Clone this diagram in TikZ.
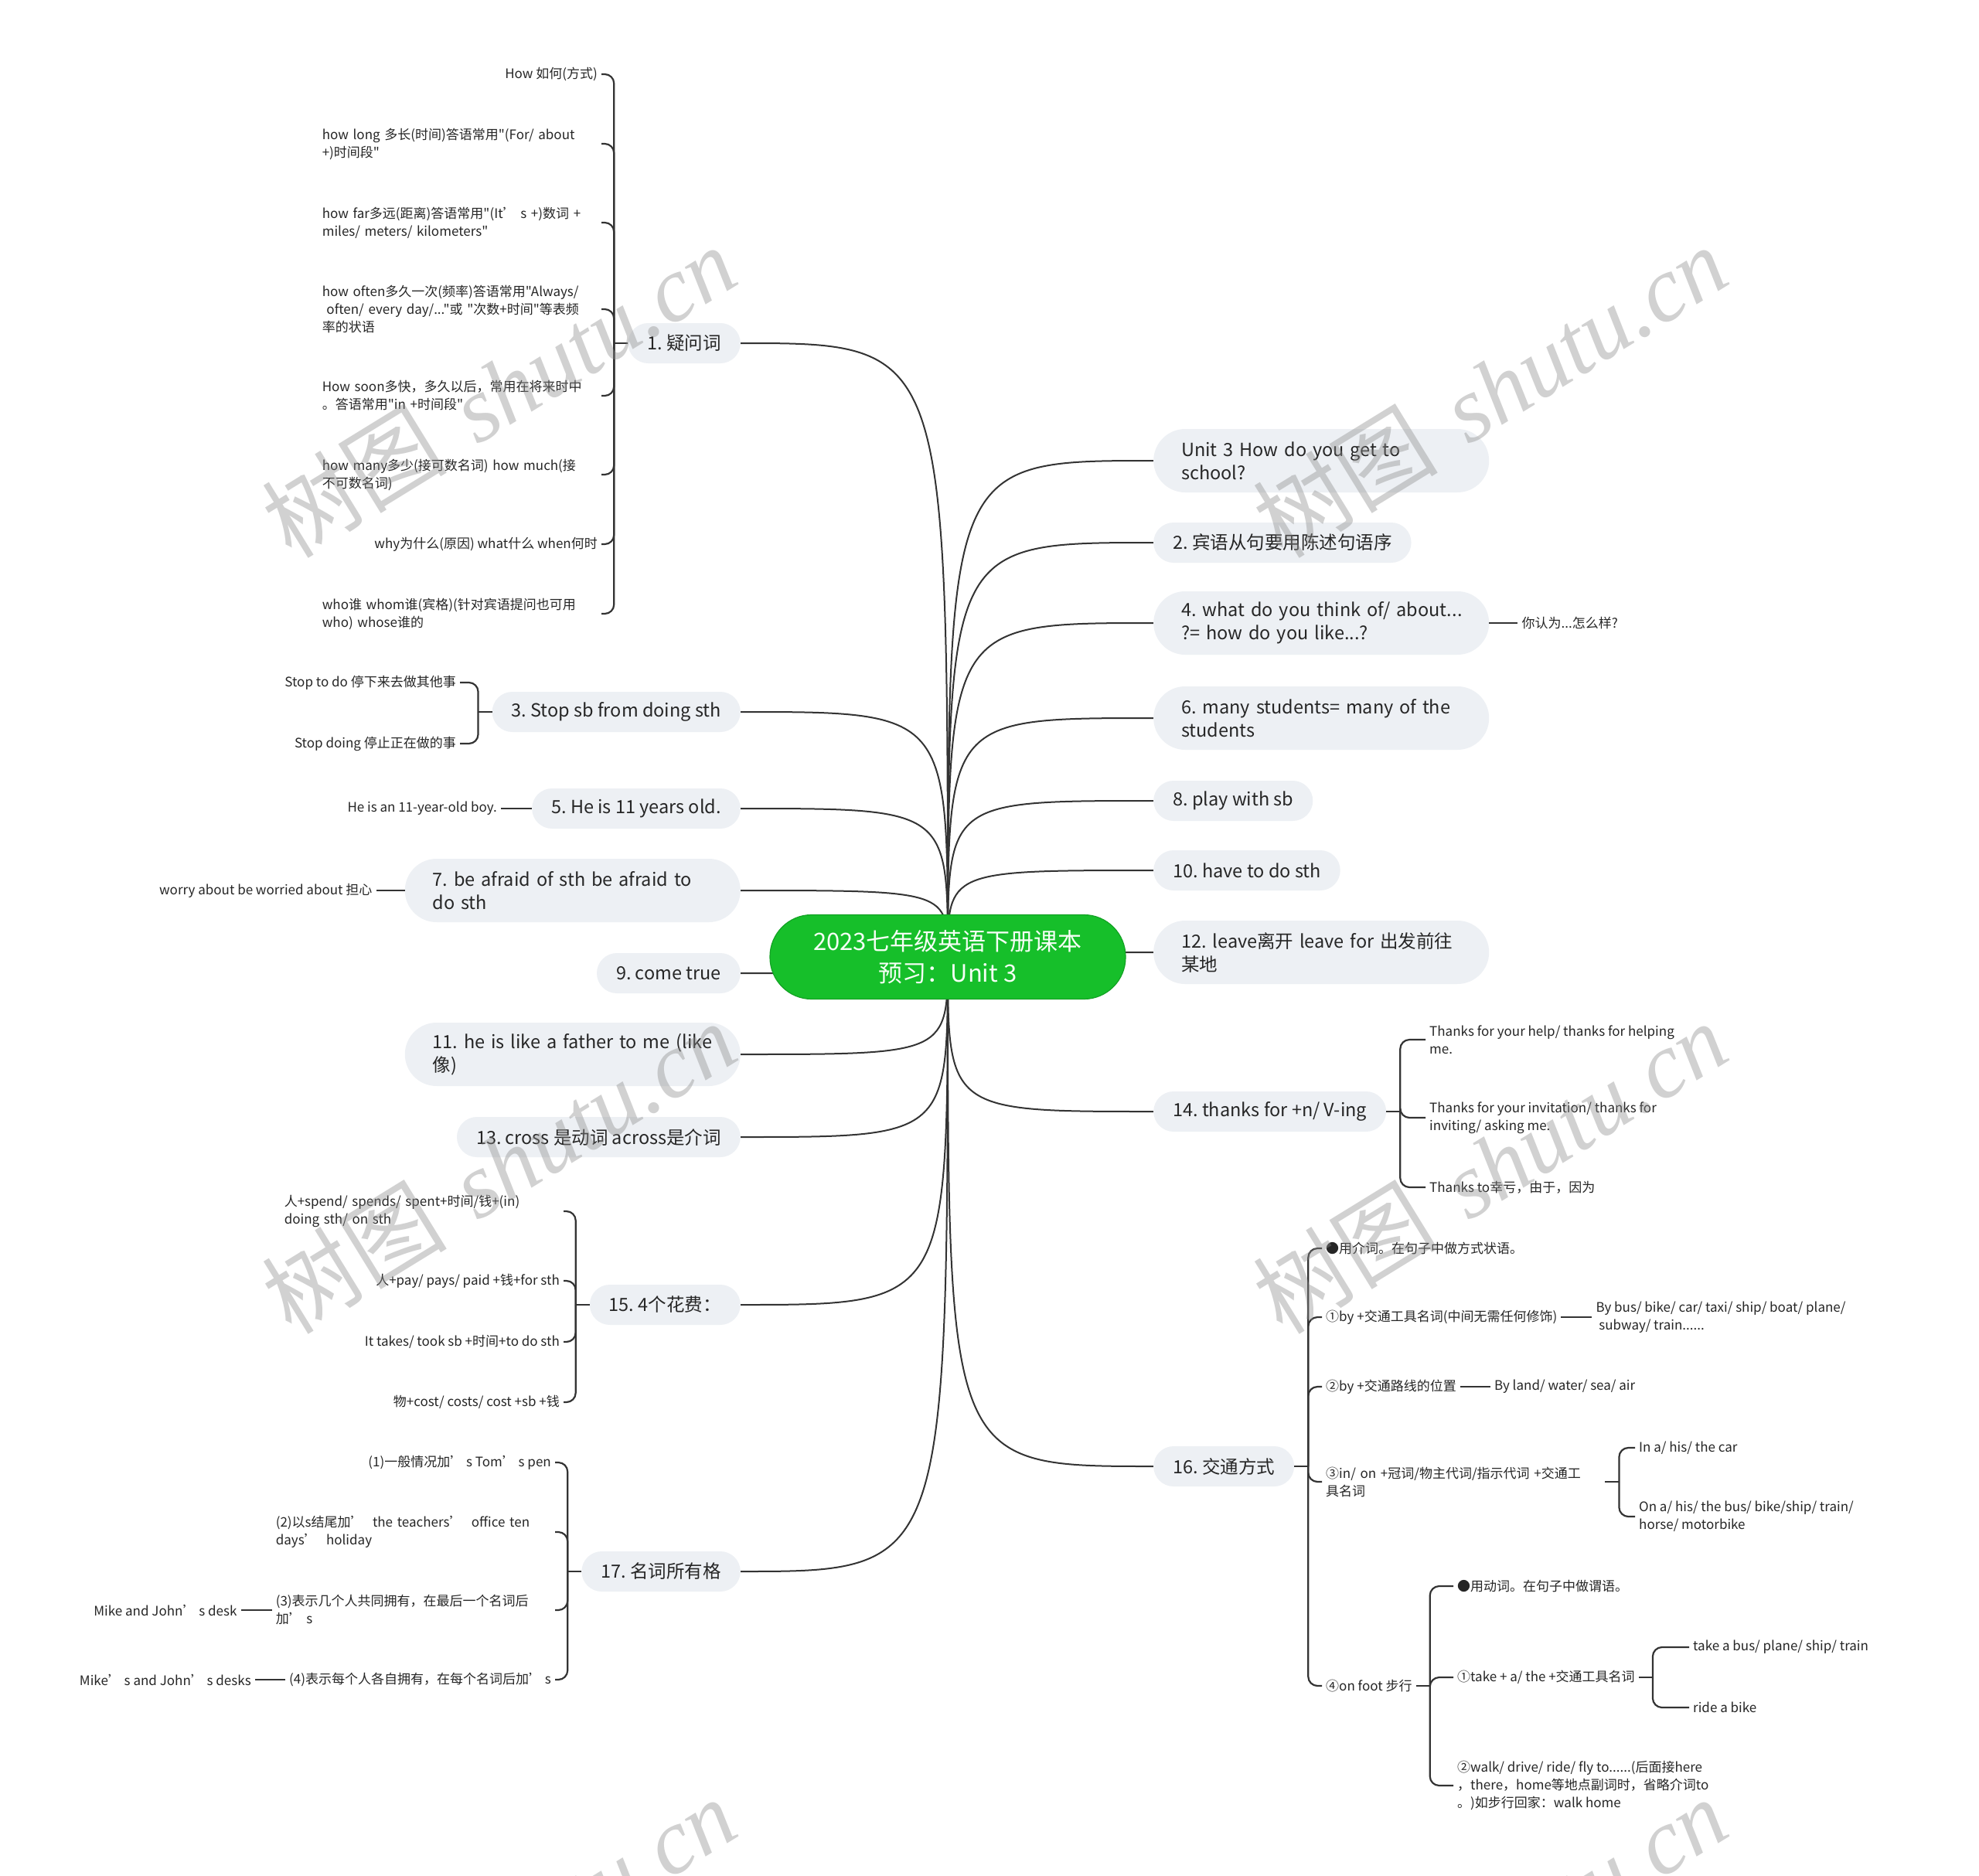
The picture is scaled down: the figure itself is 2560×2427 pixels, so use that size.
\documentclass[tikz,border=0pt]{standalone}
\usepackage{fontspec}
\setmainfont{Noto Sans CJK SC}[Ligatures=TeXOff]
\newfontfamily\wmfont{Liberation Serif}
\usetikzlibrary{positioning, backgrounds}
\definecolor{rootgreen}{HTML}{16BF2A}
\definecolor{boxgrey}{HTML}{EDF0F4}
\definecolor{linegrey}{HTML}{333333}
\frenchspacing

\begin{document}
\begin{tikzpicture}[
  x=1pt, y=-1pt,
  root/.style={rectangle, rounded corners=54, fill=rootgreen, draw=rootgreen!85!black, line width=1.2, minimum width=460, minimum height=109, align=center, text=green!4, font=\fontsize{31}{41}\selectfont},
  branch/.style={rectangle, rounded corners=26, fill=boxgrey, minimum height=52, inner xsep=25, inner ysep=0, text=black!85, font=\fontsize{23.5}{30}\selectfont},
  branchtwo/.style={branch, rounded corners=41, minimum height=82, inner xsep=36, text width=362, align=left},
  leaf/.style={inner xsep=5, inner ysep=2, text=black!85, font=\fontsize{17}{23}\selectfont},
  leafwide/.style={leaf, text width=356, align=left},
  leafml/.style={leaf, align=left},
  conn/.style={draw=linegrey, line width=2.2},
  hook/.style={conn, rounded corners=12},
  rootline/.style={draw=linegrey, line width=2},
  wmark/.style={text=black!45, opacity=0.4, font=\fontsize{120}{120}\selectfont, rotate=31.6},
]
\useasboundingbox (0,0) rectangle (2560,2427);

\node[root] (root) at (1226,1238) {2023七年级英语下册课本\\预习：Unit 3};

\node[branch, anchor=east] (b1) at (958,444) {1. 疑问词};
\node[branch, anchor=east] (b3) at (958,921) {3. Stop sb from doing sth};
\node[branch, anchor=east] (b5) at (958,1046) {5. He is 11 years old.};
\node[branchtwo, anchor=east] (b7) at (958,1152) {7. be afraid of sth be afraid to\\do sth};
\node[branch, anchor=east] (b9) at (958,1259) {9. come true};
\node[branchtwo, anchor=east] (b11) at (958,1364) {11. he is like a father to me (like\\像)};
\node[branch, anchor=east] (b13) at (958,1471) {13. cross 是动词 across是介词};
\node[branch, anchor=east] (b15) at (958,1688) {15. 4个花费：};
\node[branch, anchor=east] (b17) at (958,2033) {17. 名词所有格};

\node[branchtwo, anchor=west] (bu) at (1492,596) {Unit 3 How do you get to\\school?};
\node[branch, anchor=west] (b2) at (1492,702) {2. 宾语从句要用陈述句语序};
\node[branchtwo, anchor=west] (b4) at (1492,806) {\mbox{4. what do you think of/ about...}\\?= how do you like...?};
\node[branchtwo, anchor=west] (b6) at (1492,929) {6. many students= many of the\\students};
\node[branch, anchor=west] (b8) at (1492,1036) {8. play with sb};
\node[branch, anchor=west] (b10) at (1492,1126) {10. have to do sth};
\node[branchtwo, anchor=west] (b12) at (1492,1232) {12. leave离开 leave for 出发前往\\某地};
\node[branch, anchor=west] (b14) at (1492,1438) {14. thanks for +n/ V-ing};
\node[branch, anchor=west] (b16) at (1492,1897) {16. 交通方式};

\node[leaf, anchor=east] (l1a) at (778,96) {How 如何(方式)};
\node[leafwide, anchor=east] (l1b) at (778,186) {how long 多长(时间)答语常用"(For/ about\\+)时间段"};
\node[leafwide, anchor=east] (l1c) at (778,288) {how far多远(距离)答语常用"(It’ s +)数词 +\\miles/ meters/ kilometers"};
\node[leafwide, anchor=east] (l1d) at (778,400) {how often多久一次(频率)答语常用"Always/\\\ often/ every day/..."或 "次数+时间"等表频\\率的状语};
\node[leafwide, anchor=east] (l1e) at (778,512) {How soon多快，多久以后，常用在将来时中\\。答语常用"in +时间段"};
\node[leafwide, anchor=east] (l1f) at (778,614) {how many多少(接可数名词) how much(接\\不可数名词)};
\node[leaf, anchor=east] (l1g) at (778,704) {why为什么(原因) what什么 when何时};
\node[leafwide, anchor=east] (l1h) at (778,794) {who谁 whom谁(宾格)(针对宾语提问也可用\\who) whose谁的};

\node[leaf, anchor=east] (l3a) at (595,883) {Stop to do 停下来去做其他事};
\node[leaf, anchor=east] (l3b) at (595,962) {Stop doing 停止正在做的事};
\node[leaf, left=40 of b5] (l5) {He is an 11-year-old boy.};
\node[leaf, left=37 of b7] (l7) {worry about be worried about 担心};

\node[leafwide, anchor=east] (l15a) at (729,1567) {人+spend/ spends/ spent+时间/钱+(in)\\doing sth/ on sth};
\node[leaf, anchor=east] (l15b) at (729,1657) {人+pay/ pays/ paid +钱+for sth};
\node[leaf, anchor=east] (l15c) at (729,1736) {It takes/ took sb +时间+to do sth};
\node[leaf, anchor=east] (l15d) at (729,1814) {物+cost/ costs/ cost +sb +钱};

\node[leaf, anchor=east] (l17a) at (718,1892) {(1)一般情况加’ s Tom’ s pen};
\node[leafwide, anchor=east] (l17b) at (718,1982) {(2)以s结尾加’\ \ the teachers’\ \ office ten\\days’\ \ holiday};
\node[leafwide, anchor=east] (l17c) at (718,2083) {(3)表示几个人共同拥有，在最后一个名词后\\加’ s};
\node[leaf, anchor=east] (l17d) at (718,2173) {(4)表示每个人各自拥有，在每个名词后加’ s};
\node[leaf, left=40 of l17c] (m3) {Mike and John’ s desk};
\node[leaf, left=39 of l17d] (m4) {Mike’ s and John’ s desks};

\node[leaf, right=37 of b4] (l4) {你认为...怎么样?};

\node[leafml, anchor=west] (l14a) at (1844,1345) {Thanks for your help/ thanks for helping\\me.};
\node[leafml, anchor=west] (l14b) at (1844,1446) {Thanks for your invitation/ thanks for\\inviting/ asking me.};
\node[leaf, anchor=west] (l14c) at (1844,1536) {Thanks to幸亏，由于，因为};

\node[leaf, anchor=west] (l16a) at (1710,1615) {●用介词。在句子中做方式状语。};
\node[leaf, anchor=west] (l16b) at (1710,1704) {①by +交通工具名词(中间无需任何修饰)};
\node[leaf, anchor=west] (l16c) at (1710,1794) {②by +交通路线的位置};
\node[leafwide, anchor=west] (l16d) at (1710,1917) {③in/ on +冠词/物主代词/指示代词 +交通工\\具名词};
\node[leaf, anchor=west] (l16e) at (1710,2181) {④on foot 步行};
\node[leafml, right=40 of l16b] (m16b) {By bus/ bike/ car/ taxi/ ship/ boat/ plane/\\\ subway/ train......};
\node[leaf, right=39 of l16c] (m16c) {By land/ water/ sea/ air};
\node[leaf, anchor=west] (n16a) at (2115,1873) {In a/ his/ the car};
\node[leafml, anchor=west] (n16b) at (2115,1962) {On a/ his/ the bus/ bike/ship/ train/\\horse/ motorbike};
\node[leaf, anchor=west] (n16c) at (1880,2052) {●用动词。在句子中做谓语。};
\node[leaf, anchor=west] (n16d) at (1880,2170) {①take + a/ the +交通工具名词};
\node[leafml, anchor=west] (n16e) at (1880,2310) {②walk/ drive/ ride/ fly to......(后面接here\\，there，home等地点副词时，省略介词to\\。)如步行回家：walk home};
\node[leaf, anchor=west] (o1) at (2185,2131) {take a bus/ plane/ ship/ train};
\node[leaf, anchor=west] (o2) at (2185,2209) {ride a bike};

\begin{pgfonlayer}{background}
\fill[white] (0,0) rectangle (2560,2427);
\foreach \b in {b1,b3,b5,b7,b9,b11,b13,b15,b17}
  \draw[rootline] (root.center) .. controls (root.center |- \b.east) .. (\b.east);
\foreach \b in {bu,b2,b4,b6,b8,b10,b12,b14,b16}
  \draw[rootline] (root.center) .. controls (root.center |- \b.west) .. (\b.west);
\end{pgfonlayer}

\draw[conn] (b1.west) -- ++(-18,0) coordinate (t1);
\foreach \l in {l1a,l1b,l1c,l1d,l1e,l1f,l1g,l1h}
  \draw[hook] (t1) |- (\l.east);
\draw[conn] (b3.west) -- ++(-18,0) coordinate (t3);
\foreach \l in {l3a,l3b}
  \draw[hook] (t3) |- (\l.east);
\draw[conn] (b5) -- (l5);
\draw[conn] (b7) -- (l7);
\draw[conn] (b15.west) -- ++(-18,0) coordinate (t15);
\foreach \l in {l15a,l15b,l15c,l15d}
  \draw[hook] (t15) |- (\l.east);
\draw[conn] (b17.west) -- ++(-18,0) coordinate (t17);
\foreach \l in {l17a,l17b,l17c,l17d}
  \draw[hook] (t17) |- (\l.east);
\draw[conn] (l17c) -- (m3);
\draw[conn] (l17d) -- (m4);

\draw[conn] (b4) -- (l4);
\draw[conn] (b14.east) -- ++(18,0) coordinate (t14);
\foreach \l in {l14a,l14b,l14c}
  \draw[hook] (t14) |- (\l.west);
\draw[conn] (b16.east) -- ++(18,0) coordinate (t16);
\foreach \l in {l16a,l16b,l16c,l16d,l16e}
  \draw[hook] (t16) |- (\l.west);
\draw[conn] (l16b) -- (m16b);
\draw[conn] (l16c) -- (m16c);
\draw[conn] (l16d.east) -- ++(18,0) coordinate (t16d);
\foreach \l in {n16a,n16b}
  \draw[hook] (t16d) |- (\l.west);
\draw[conn] (l16e.east) -- ++(18,0) coordinate (t16e);
\foreach \l in {n16c,n16d,n16e}
  \draw[hook] (t16e) |- (\l.west);
\draw[conn] (n16d.east) -- ++(18,0) coordinate (t16f);
\foreach \l in {o1,o2}
  \draw[hook] (t16f) |- (\l.west);

\foreach \wx/\wy [count=\i] in {645/506,1927/506,645/1510,1927/1510,645/2514,1927/2514}
  \node[wmark] (wm\i) at (\wx,\wy) {树图\hspace{0.35em}{\wmfont\itshape shutu.cn}};
\end{tikzpicture}
\end{document}
